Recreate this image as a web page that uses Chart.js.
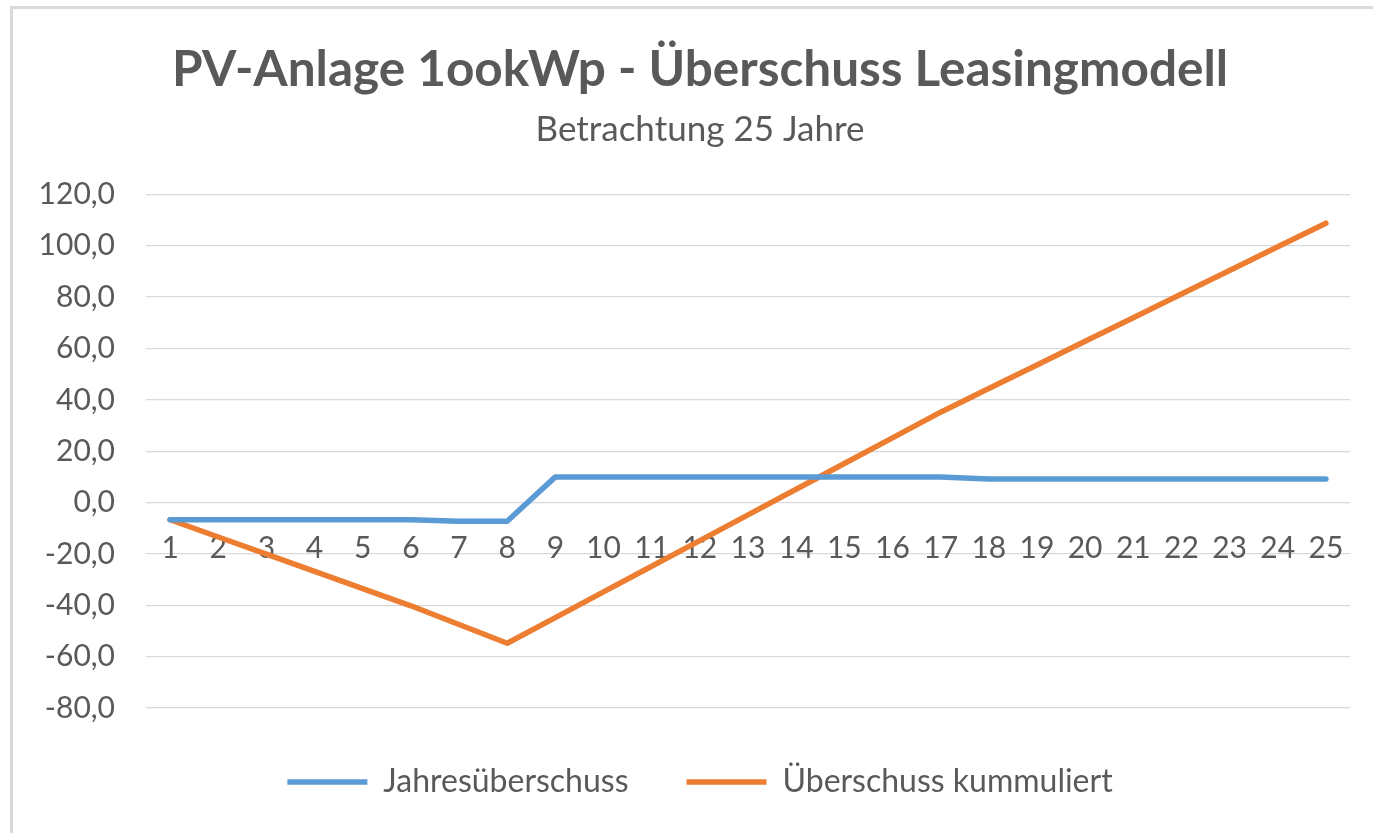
<!DOCTYPE html>
<html>
<head>
<meta charset="utf-8">
<script src="https://cdn.jsdelivr.net/npm/chart.js@4/dist/chart.umd.min.js"></script>
<style>
  html, body { margin: 0; padding: 0; background: #fff; }
  #wrap { position: relative; width: 1373px; height: 833px; overflow: hidden; }
  #frame { position: absolute; left: 10px; top: 6px; right: -20px; bottom: -20px;
           border-left: 3px solid #d9d9d9; border-top: 3px solid #d9d9d9; pointer-events: none; }
</style>
</head>
<body>
<div id="wrap">
  <canvas id="myChart" width="1373" height="833"></canvas>
  <div id="frame"></div>
</div>
<script>
// Jahre 1..25
const years = ["1","2","3","4","5","6","7","8","9","10","11","12","13","14","15","16","17","18","19","20","21","22","23","24","25"];

// Jahresüberschuss
const jahresueberschuss = [-6.7, -6.7, -6.7, -6.7, -6.7, -6.7, -7.3, -7.3,
  10.0, 10.0, 10.0, 10.0, 10.0, 10.0, 10.0, 10.0, 10.0,
  9.2, 9.2, 9.2, 9.2, 9.2, 9.2, 9.2, 9.2];

// Überschuss kummuliert
const kummuliert = [-6.7, -13.4, -20.1, -26.8, -33.5, -40.2, -47.5, -54.8,
  -44.8, -34.8, -24.8, -14.8, -4.8, 5.2, 15.2, 25.2, 35.2,
  44.4, 53.6, 62.8, 72.0, 81.2, 90.4, 99.6, 108.8];

const yMin = -80;
const yMax = 120;
const yStep = 20;

const FONT = "Lato, 'Open Sans', sans-serif";
const GREY = "#595959";

// Titel + Legende wie in Excel etwas nach rechts zentrieren
const shiftBlocks = {
  id: "shiftBlocks",
  afterLayout(chart) {
    chart.boxes.forEach(b => {
      if (b.fullSize && (b.position === "top" || b.position === "bottom")) {
        b.left = 50;
      }
    });
  },
};

const data = {
  labels: years,
  datasets: [
    {
      label: "Jahresüberschuss",
      data: jahresueberschuss,
      borderColor: "#5B9BD5",
      backgroundColor: "#5B9BD5",
      borderWidth: 5.5,
      borderCapStyle: "round",
      borderJoinStyle: "round",
      tension: 0,
      pointRadius: 0,
    },
    {
      label: "Überschuss kummuliert",
      data: kummuliert,
      borderColor: "#ED7D31",
      backgroundColor: "#ED7D31",
      borderWidth: 5.5,
      borderCapStyle: "round",
      borderJoinStyle: "round",
      tension: 0,
      pointRadius: 0,
    },
  ],
};

const config = {
  type: "line",
  data: data,
  plugins: [shiftBlocks],
  options: {
    responsive: false,
    animation: false,
    layout: { padding: { left: 20, right: 23, top: 0, bottom: 25 } },
    plugins: {
      title: {
        display: true,
        text: "PV-Anlage 1ookWp - Überschuss Leasingmodell",
        color: GREY,
        font: { family: FONT, size: 49.5, weight: "bold" },
        padding: { top: 40, bottom: 9 },
      },
      subtitle: {
        display: true,
        text: "Betrachtung 25 Jahre",
        color: GREY,
        font: { family: FONT, size: 35 },
        padding: { top: 0, bottom: 44 },
      },
      legend: {
        position: "bottom",
        labels: {
          color: GREY,
          font: { family: FONT, size: 32 },
          usePointStyle: true,
          pointStyle: "line",
          pointStyleWidth: 80,
          padding: 58,
        },
      },
      tooltip: { enabled: false },
    },
    scales: {
      x: {
        position: { y: 0 },
        offset: true,
        grid: { display: false, drawTicks: false },
        border: { display: false },
        ticks: {
          color: GREY,
          font: { family: FONT, size: 30 },
          padding: 28,
          autoSkip: false,
          maxRotation: 0,
        },
        afterFit: function (scale) { scale.height = 0; },
      },
      y: {
        min: yMin,
        max: yMax,
        grid: { color: "#d9d9d9", lineWidth: 1.3, drawTicks: false },
        border: { display: false },
        ticks: {
          stepSize: yStep,
          color: GREY,
          font: { family: FONT, size: 30 },
          padding: 31,
          callback: function (v) { return v.toFixed(1).replace(".", ","); },
        },
        afterFit: function (scale) { scale.width = 126; },
      },
    },
  },
};

const context = document.getElementById("myChart").getContext("2d");
const chart = new Chart(context, config);
</script>
</body>
</html>
